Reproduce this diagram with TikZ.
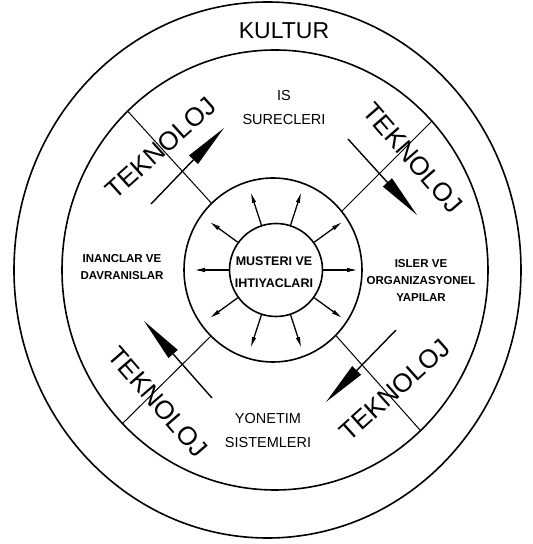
\documentclass[tikz,border=0pt]{standalone}
\usepackage{fontspec}
\setmainfont{Liberation Sans}
\usetikzlibrary{arrows.meta}
\begin{document}
\begin{tikzpicture}[x=1pt,y=1pt,
  ringline/.style={line width=1.6pt},
  divider/.style={line width=1pt},
  bigarrow/.style={line width=1.4pt,-{Triangle[length=44pt,width=12pt]}},
  smallarrow/.style={line width=1.3pt,-{Latex[length=11pt,width=4.5pt]}},
  tekno/.style={font=\fontsize{26}{28}\selectfont, inner sep=0pt},
  titlelbl/.style={font=\fontsize{23}{26}\selectfont},
  medlbl/.style={font=\fontsize{14.5}{24}\selectfont, align=center},
  smalllbl/.style={font=\bfseries\fontsize{11.5}{17}\selectfont, align=center},
  corelbl/.style={font=\bfseries\fontsize{12.5}{22}\selectfont, align=center}
]
\useasboundingbox (0,0) rectangle (533,544);
\fill[white] (0,0) rectangle (533,544);

% circles
\draw[ringline] (267.5,274) ellipse [x radius=253.5pt, y radius=268pt];
\draw[ringline] (275,274) ellipse [x radius=213pt, y radius=220pt];
\draw[ringline] (273,274) ellipse [x radius=89pt, y radius=92pt];
\node[circle, draw, ringline, minimum size=93pt, inner sep=0pt] (mv) at (276,274) {};

% dividers
\coordinate (ulA) at (211.5,340.7); \coordinate (ulB) at (128,432.5);
\coordinate (urA) at (341.5,332.5); \coordinate (urB) at (432,423);
\coordinate (llA) at (211,208);     \coordinate (llB) at (122,120);
\coordinate (lrA) at (336,208.3);   \coordinate (lrB) at (420,114);
\draw[divider] (ulA) -- (ulB);
\draw[divider] (urA) -- (urB);
\draw[divider] (llA) -- (llB);
\draw[divider] (lrA) -- (lrB);

% big arrows
\coordinate (ulT) at (151,340); \coordinate (ulH) at (224,416);
\coordinate (urT) at (348,405); \coordinate (urH) at (417,329);
\coordinate (llT) at (212,146); \coordinate (llH) at (144,223);
\coordinate (lrT) at (396,214); \coordinate (lrH) at (326,142);
\draw[bigarrow] (ulT) -- (ulH);
\draw[bigarrow] (urT) -- (urH);
\draw[bigarrow] (llT) -- (llH);
\draw[bigarrow] (lrT) -- (lrH);

% small arrows
\foreach \a in {0,36,...,324}{
  \coordinate (sa\a) at ([shift={(276,274)}]\a:82);
  \draw[smallarrow] (mv.\a) -- (sa\a);
}

% texts
\node[titlelbl] (kultur) at (284,513) {KULTUR};
\node[medlbl] (is) at (284,436) {IS\\SURECLERI};
\node[medlbl] (yon) at (268,113.5) {YONETIM\\SISTEMLERI};
\node[smalllbl] (inanc) at (122,276.5) {INANCLAR VE\\DAVRANISLAR};
\node[smalllbl] (isler) at (421,264) {ISLER VE\\ORGANIZASYONEL\\YAPILAR};
\node[corelbl] (must) at (274,272) {MUSTERI VE\\IHTIYACLARI};

\node[tekno, rotate=42] (t1) at (161,396) {TEKNOLOJ};
\node[tekno, rotate=-49] (t2) at (413,386) {TEKNOLOJ};
\node[tekno, rotate=-49] (t3) at (158,142) {TEKNOLOJ};
\node[tekno, rotate=42] (t4) at (395,154) {TEKNOLOJ};
\end{tikzpicture}
\end{document}
